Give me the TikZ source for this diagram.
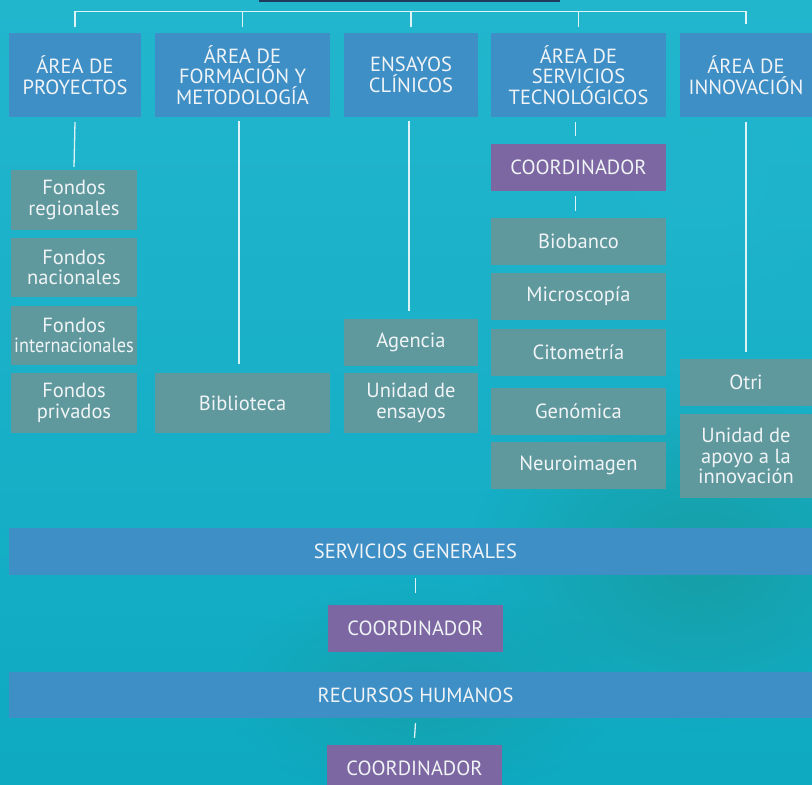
\documentclass[tikz,border=0pt]{standalone}
\usepackage{fontspec}
\setmainfont{PT Sans}
\usetikzlibrary{calc,fadings}
\tikzfading[name=softblob, inner color=transparent!0, outer color=transparent!100]
\definecolor{bgtop}{HTML}{22B6CD}
\definecolor{bgmid}{HTML}{14ABC0}
\definecolor{bgbot}{HTML}{0EAAC2}
\definecolor{blobc}{HTML}{179A9C}
\definecolor{boxblue}{HTML}{3F8FC7}
\definecolor{boxgrey}{HTML}{5F999D}
\definecolor{boxpurple}{HTML}{7C67A2}
\definecolor{navy}{HTML}{1E3A5C}
\definecolor{txt}{HTML}{F0F4F6}
\tikzset{
  basebox/.style={inner sep=0pt, text=txt, align=center,
    font=\fontsize{20.5}{20.5}\selectfont},
  bluebox/.style={basebox, fill=boxblue},
  greybox/.style={basebox, fill=boxgrey},
  purplebox/.style={basebox, fill=boxpurple},
  conn/.style={draw=white, draw opacity=0.85, line width=1.3pt},
}
\begin{document}
\begin{tikzpicture}[x=1pt,y=-1pt]
\useasboundingbox (0,0) rectangle (812,785);
\clip (0,0) rectangle (812,785);
% background
\shade[top color=bgtop, middle color=bgmid, bottom color=bgbot] (0,0) rectangle (812,785);
\fill[blobc, path fading=softblob, opacity=0.8] (700,560) ellipse (230 and 170);
\fill[blobc, path fading=softblob, opacity=0.6] (420,690) ellipse (200 and 110);
\fill[bgtop, path fading=softblob, opacity=0.5] (700,180) ellipse (200 and 150);
% top (cut) box
\node[fill=navy, inner sep=0pt, minimum width=301pt, minimum height=12pt] (top) at (409.5,-4) {};
% main areas
\node[bluebox, minimum width=132pt, minimum height=84pt] (p1) at (75,75) {ÁREA DE\\PROYECTOS};
\node[bluebox, minimum width=175pt, minimum height=84pt] (p2) at (242.5,75) {ÁREA DE\\FORMACIÓN Y\\METODOLOGÍA};
\node[bluebox, minimum width=134pt, minimum height=84pt] (p3) at (411,75) {ENSAYOS\\CLÍNICOS};
\node[bluebox, minimum width=175pt, minimum height=84pt] (p4) at (578.5,75) {ÁREA DE\\SERVICIOS\\TECNOLÓGICOS};
\node[bluebox, minimum width=132pt, minimum height=84pt] (p5) at (746,75) {ÁREA DE\\INNOVACIÓN};
% proyectos
\node[greybox, minimum width=126pt, minimum height=60pt] (f1) at (74,200) {Fondos\\regionales};
\node[greybox, minimum width=126pt, minimum height=59pt] (f2) at (74,267.5) {Fondos\\nacionales};
\node[greybox, minimum width=126pt, minimum height=59pt] (f3) at (74,335.5) {Fondos\\\scalebox{0.89}[1]{internacionales}};
\node[greybox, minimum width=126pt, minimum height=60pt] (f4) at (74,403) {Fondos\\privados};
% formacion
\node[greybox, minimum width=175pt, minimum height=60pt] (bib) at (242.5,403) {Biblioteca};
% ensayos
\node[greybox, minimum width=134pt, minimum height=47pt] (ag) at (411,342.5) {Agencia};
\node[greybox, minimum width=134pt, minimum height=60pt] (ue) at (411,403) {Unidad de\\ensayos};
% servicios tecnologicos
\node[purplebox, minimum width=175pt, minimum height=47pt] (c4) at (578.5,167.5) {COORDINADOR};
\node[greybox, minimum width=175pt, minimum height=47pt] (s1) at (578.5,241.5) {Biobanco};
\node[greybox, minimum width=175pt, minimum height=47pt] (s2) at (578.5,296.5) {Microscopía};
\node[greybox, minimum width=175pt, minimum height=47pt] (s3) at (578.5,352.5) {Citometría};
\node[greybox, minimum width=175pt, minimum height=47pt] (s4) at (578.5,411.5) {Genómica};
\node[greybox, minimum width=175pt, minimum height=47pt] (s5) at (578.5,465.5) {Neuroimagen};
% innovacion
\node[greybox, minimum width=132pt, minimum height=47pt] (otri) at (746,382.5) {Otri};
\node[greybox, minimum width=132pt, minimum height=84pt] (uai) at (746,456) {Unidad de\\apoyo a la\\innovación};
% general
\node[bluebox, minimum width=813pt, minimum height=47pt] (sg) at (415.5,551.5) {SERVICIOS GENERALES};
\node[purplebox, minimum width=175pt, minimum height=47pt] (cg) at (415.5,628.5) {COORDINADOR};
\node[bluebox, minimum width=813pt, minimum height=46pt] (rh) at (415.5,695) {RECURSOS HUMANOS};
\node[purplebox, minimum width=175pt, minimum height=47pt] (ch) at (414.5,768.5) {COORDINADOR};
% connectors
\draw[conn] ($(p1.north)+(0,-6)$) -- ++(0,-15) -| ($(p5.north)+(0,-9)$);
\foreach \n in {p2,p3,p4}
  \draw[conn] ($(\n.north)+(0,-6)$) -- ++(0,-15);
\draw[conn] ($(p1.south)+(0,5)$) -- ($(f1.north)+(0,-3)$);
\draw[conn] ($(p2.south)+(-3.5,4)$) -- ($(bib.north)+(-3.5,-9)$);
\draw[conn] ($(p3.south)+(-2,4)$) -- ($(ag.north)+(-2,-8)$);
\draw[conn] ($(p4.south)+(-3,5)$) -- ($(c4.north)+(-3,-8)$);
\draw[conn] ($(c4.south)+(-3,5)$) -- ($(s1.north)+(-3,-7)$);
\draw[conn] ($(p5.south)+(0,5)$) -- ($(otri.north)+(0,-7)$);
\draw[conn] ($(sg.south)+(0,3)$) -- ($(cg.north)+(0,-12)$);
\draw[conn] ($(rh.south)+(0,5)$) -- ($(ch.north)+(0,-7)$);
\end{tikzpicture}
\end{document}
